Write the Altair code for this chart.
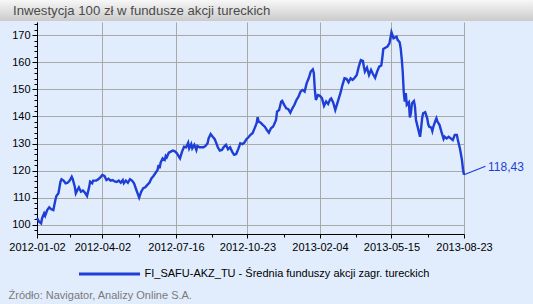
import altair as alt
import pandas as pd

title_text = "Inwestycja 100 zł w fundusze akcji tureckich"
series_name = "FI_SAFU-AKZ_TU - Średnia funduszy akcji zagr. tureckich"
source_text = "Źródło: Navigator, Analizy Online S.A."

# trading-day index since 2012-01-02 and fund value (investment of 100 zł)
day = [
    0, 2, 4, 5, 7, 8, 10, 12, 14, 16, 18, 19, 21, 23, 24, 26, 28, 30, 32, 34,
    35, 37, 38, 40, 41, 43, 45, 47, 49, 51, 52, 54, 55,
    58, 60, 62, 64, 66, 68, 70, 72, 74, 76, 78, 80, 82, 84, 85, 87, 89, 91, 93, 95,
    97, 99, 100, 102, 104, 106, 108, 110, 112, 114,
    118, 119, 120, 121, 123, 125, 126, 127, 129, 131, 133, 135, 137, 139, 140, 142, 144, 146, 148, 149,
    151, 152, 154, 156, 157, 159, 161, 163, 165, 167, 168, 170, 172, 174,
    177, 179, 181, 183, 185, 187, 189, 191, 193, 195, 197, 199, 201, 203, 205, 207, 209, 211, 213, 215,
    216, 217, 219, 221, 223, 225, 227, 229, 231,
    232, 234, 235, 237, 239, 240, 242, 244, 246, 248, 250, 252, 254, 256, 258, 260, 262, 264, 266, 268,
    270, 271, 272, 273, 275, 277, 279, 281, 283, 285, 287, 288, 290, 292,
    295, 297, 299, 301, 303, 305, 307, 309, 311, 313, 315, 317, 319, 320, 321, 323, 325, 327, 329, 331,
    333, 335, 337, 338, 339, 341, 343, 345, 347, 349,
    352, 353, 355, 356, 357, 358, 359, 360, 361, 362, 364, 365, 366, 367, 369, 370, 371, 373, 375, 376,
    377, 378, 380, 382, 383, 384, 386, 387, 388, 390, 391, 392, 394, 396, 398, 399, 401, 403, 405, 407,
    409, 411, 412, 414, 416, 417, 418,
]
value = [
    102.4, 101.1, 100.5, 102.4, 104.2, 103.3, 105.4, 106.4, 105.7, 105.4, 109.1, 110.6, 111.6, 115.9, 116.8, 116.3, 115.3, 115.5, 116.3, 117.7,
    116.8, 114.0, 111.6, 113.1, 113.8, 112.2, 112.6, 111.8, 110.6, 113.8, 115.9, 115.3, 116.3,
    116.3, 116.8, 117.5, 118.4, 118.0, 116.5, 117.0, 116.3, 116.5, 116.0, 115.8, 116.3, 115.5, 116.5, 115.3, 116.3, 115.5, 116.8, 116.3, 115.3,
    113.1, 111.0, 110.0, 112.2, 113.5, 113.8, 114.7, 115.5, 117.1, 118.0,
    120.2, 122.1, 120.8, 122.9, 124.5, 123.9, 125.4, 124.9, 126.6, 127.0, 127.4, 127.1, 126.4, 125.1, 124.5, 127.0, 128.8, 128.6, 130.3, 128.2,
    129.8, 128.2, 129.5, 127.6, 129.1, 128.6, 128.6, 128.6, 129.1, 130.1, 131.9, 133.5, 132.5, 131.6,
    128.6, 127.4, 127.6, 128.8, 129.5, 127.9, 128.6, 127.0, 125.8, 126.1, 127.9, 130.1, 129.8, 130.3, 131.6, 132.3, 133.2, 133.8, 135.6, 137.5,
    139.7, 138.1, 137.7, 136.9, 136.2, 135.0, 134.0, 135.6, 136.2,
    136.9, 138.7, 141.8, 142.4, 145.5, 145.8, 144.3, 143.0, 142.7, 141.4, 143.0, 144.3, 146.1, 147.3, 149.2, 149.8, 149.2, 152.3, 154.1, 156.6,
    157.4, 156.0, 149.8, 146.1, 147.9, 147.6, 146.7, 143.9, 145.5, 144.6, 146.4, 146.7, 145.1, 142.4,
    146.1, 148.6, 151.6, 154.1, 153.9, 152.6, 154.1, 153.5, 154.3, 155.3, 158.4, 160.8, 160.5, 158.4, 156.6, 158.0, 155.3, 157.2, 155.6, 154.3,
    156.6, 158.4, 158.8, 161.5, 164.9, 165.4, 165.8, 167.0, 171.1, 168.9,
    169.5, 168.3, 167.4, 165.2, 161.5, 156.6, 149.2, 145.5, 148.6, 144.3, 145.2, 139.6, 141.2, 144.9, 145.7, 143.6, 138.7, 135.6, 132.5, 135.6,
    139.3, 141.2, 141.6, 139.3, 137.1, 136.2, 135.9, 134.6, 136.2, 138.4, 139.3, 138.1, 136.9, 134.2, 131.7, 132.5, 131.9, 132.5, 131.9, 131.3,
    133.2, 133.2, 131.3, 128.2, 123.9, 120.5, 118.43,
]

tick_days = [0, 64, 136, 206, 277, 347, 418]
tick_labels = ["2012-01-02", "2012-04-02", "2012-07-16", "2012-10-23",
               "2013-02-04", "2013-05-15", "2013-08-23"]
minor_days = [32, 100, 171, 241.5, 312, 382.5]
y_ticks = list(range(98, 175, 2))

BLUE = "#1e3ed6"
FONT = "Liberation Sans"

df = pd.DataFrame({"day": day, "value": value, "series": series_name})
last = df.tail(1)

ticks_js = "[" + ",".join(str(t) for t in tick_days) + "]"
labels_js = "[" + ",".join("'" + l + "'" for l in tick_labels) + "]"
is_major_x = "indexof(" + ticks_js + ", datum.value) >= 0"
label_expr_x = is_major_x + " ? " + labels_js + "[indexof(" + ticks_js + ", datum.value)] : ''"
is_major_y = "datum.value % 10 === 0"

x_axis = alt.Axis(
    values=sorted(tick_days + minor_days), tickCount=200,
    labelExpr=label_expr_x,
    labelFont=FONT, labelFontSize=11, labelColor="#000000", labelPadding=3,
    labelFlush=False, labelOverlap=False,
    tickColor="#000000",
    tickSize={"condition": {"test": is_major_x, "value": 4}, "value": 3},
    domainColor="#000000", domainWidth=1,
    grid=True, gridColor="#a9a9a9", gridWidth=1,
    gridOpacity={"condition": {"test": is_major_x, "value": 1}, "value": 0},
    title=source_text, titleFont=FONT, titleFontSize=11, titleFontWeight="normal",
    titleColor="#7a7a7a", titleAnchor="start", titleAlign="left", titleBaseline="middle",
    titleX=-29, titleY=61,
)
y_axis = alt.Axis(
    values=y_ticks, tickCount=200,
    labelExpr=is_major_y + " ? format(datum.value, 'd') : ''",
    labelFont=FONT, labelFontSize=11, labelColor="#000000", labelPadding=2,
    labelOverlap=False, labelFlush=False,
    tickColor="#000000",
    tickSize={"condition": {"test": is_major_y, "value": 5}, "value": 3},
    domainColor="#000000", domainWidth=1,
    grid=True, gridColor="#a9a9a9", gridWidth=1,
    gridOpacity={"condition": {"test": is_major_y, "value": 1}, "value": 0},
    title=None,
)

x_scale = alt.Scale(domain=[0, 418], nice=False, zero=False)
y_scale = alt.Scale(domain=[96.56, 174.9], nice=False, zero=False)
x_enc = alt.X("day:Q", scale=x_scale, axis=x_axis)
y_enc = alt.Y("value:Q", scale=y_scale, axis=y_axis)

header_fill = alt.LinearGradient(
    gradient="linear",
    stops=[alt.GradientStop(color="#f7f7f7", offset=0),
           alt.GradientStop(color="#cbcbcb", offset=1)],
    x1=0, x2=0, y1=0, y2=1,
)
head_df = pd.DataFrame({"title": [title_text]})
header_base = alt.Chart(head_df).mark_rect(fill="#dcdcdc").encode(
    x=alt.value(-37), x2=alt.value(496), y=alt.value(-22), y2=alt.value(-1)
)
header = alt.Chart(head_df).mark_rect(fill=header_fill).encode(
    x=alt.value(-37), x2=alt.value(496), y=alt.value(-22), y2=alt.value(-1)
)
header_text = alt.Chart(head_df).mark_text(
    align="left", baseline="alphabetic", font=FONT, fontSize=13.2, color="#4a4a4a"
).encode(x=alt.value(-24), y=alt.value(-7.5), text="title:N")

line = alt.Chart(df).mark_line(strokeWidth=2.4).encode(
    x=x_enc,
    y=y_enc,
    color=alt.Color(
        "series:N",
        scale=alt.Scale(range=[BLUE]),
        legend=alt.Legend(
            orient="none", legendX=40.5, legendY=220, title=None, padding=0,
            symbolType="stroke", symbolSize=3721, symbolStrokeWidth=3,
            labelFont=FONT, labelFontSize=11, labelColor="#000000", labelOffset=3,
            labelLimit=400,
        ),
    ),
)

leader = alt.Chart(last).mark_rule(color=BLUE, strokeWidth=1.2, x2Offset=21.5, y2Offset=-8.5).encode(
    x=x_enc, x2="day:Q", y=y_enc, y2="value:Q"
)
value_label = alt.Chart(last).transform_calculate(
    lbl="replace(format(datum.value, '.2f'), '.', ',')"
).mark_text(align="left", baseline="middle", dx=24, dy=-8, color=BLUE,
            font=FONT, fontSize=12).encode(
    x=x_enc, y=y_enc, text="lbl:N"
)

chart = alt.layer(header_base, header, header_text, line, leader, value_label).properties(
    width=427, height=212,
    padding={"left": 37, "top": 22, "right": 69, "bottom": 70},
    autosize=alt.AutoSizeParams(type="none"),
    background="#e1edfd",
).configure_view(stroke=None)

chart.save("out.html", embed_options={"renderer": "svg", "actions": False})
